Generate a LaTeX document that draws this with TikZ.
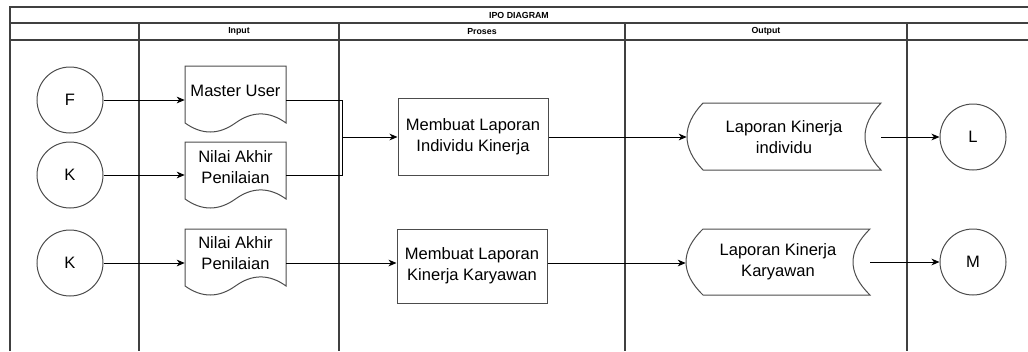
\documentclass[tikz,border=0pt]{standalone}
\usepackage{fontspec}
\setmainfont{Liberation Sans}
\usetikzlibrary{arrows.meta,calc}

% document symbol: flat top, wavy bottom (left, top, right, bottom)
\newcommand\ipodoc[4]{%
  \draw[shp] (#1,#2) -- (#3,#2) -- (#3,{#2+0.85*(#4-#2)})
    .. controls ({#1+0.8333*(#3-#1)},{#2+0.67*(#4-#2)}) and ({#1+0.6667*(#3-#1)},{#2+0.67*(#4-#2)})
    .. ({#1+0.5*(#3-#1)},{#2+0.85*(#4-#2)})
    .. controls ({#1+0.3333*(#3-#1)},{#2+1.03*(#4-#2)}) and ({#1+0.1667*(#3-#1)},{#2+1.03*(#4-#2)})
    .. (#1,{#2+0.85*(#4-#2)}) -- cycle;}

% stored-data symbol: convex left side, concave right side (left, top, right, bottom, curve depth)
\newcommand\iposto[5]{%
  \draw[shp] ({#1+#5},#2) -- (#3,#2)
    .. controls ({#3-1.3333*#5},{#2+(#4-#2)/3}) and ({#3-1.3333*#5},{#4-(#4-#2)/3}) .. (#3,#4)
    -- ({#1+#5},#4)
    .. controls ({#1-#5/3},{#4-(#4-#2)/3}) and ({#1-#5/3},{#2+(#4-#2)/3}) .. ({#1+#5},#2) -- cycle;}

\begin{document}
\begin{tikzpicture}[x=0.75pt,y=-0.75pt,
  frame/.style={draw=black!75,line width=0.8pt},
  shp/.style={draw=black!70,line width=0.75pt},
  link/.style={draw=black,line width=0.75pt},
  conn/.style={link,-{Stealth[length=6pt,width=5pt,inset=1.8pt]}},
  lbl/.style={font=\fontsize{12.4}{15.75}\selectfont,align=center,inner sep=0pt},
  hdr/.style={font=\fontsize{6.6}{8}\selectfont\bfseries,inner sep=0pt},
  term/.style={circle,shp,minimum size=49.5pt,inner sep=0pt,font=\fontsize{12.4}{15}\selectfont},
  procbox/.style={rectangle,shp,lbl},
]
\useasboundingbox (0,0) rectangle (1028,351);

% swimlane frame
\draw[frame] (10,351) -- (10,7) -- (1028,7);
\draw[frame] (10,23) -- (1028,23);
\draw[frame] (10,40) -- (1028,40);
\foreach \cx in {139,339,625,907} \draw[frame] (\cx,23) -- (\cx,351);

\node[hdr] (title) at (519,15) {IPO DIAGRAM};
\node[hdr] (hin)   at (239,31.5) {Input};
\node[hdr] (hpro)  at (482,31.5) {Proses};
\node[hdr] (hout)  at (766,31.5) {Output};

% terminators
\node[term] (F)  at (70,100) {F};
\node[term] (K1) at (70,175) {K};
\node[term] (K2) at (70,263) {K};
\node[term] (L)  at (973,137) {L};
\node[term] (M)  at (973,262) {M};

% input documents
\ipodoc{185}{66}{286}{133}
\ipodoc{185}{142}{286}{209}
\ipodoc{185}{229}{286}{296}
\node[lbl,minimum width=75.75pt] (mu)  at (235.5,91)    {Master User};
\node[lbl,minimum width=75.75pt] (na1) at (235.5,167.5) {Nilai Akhir\\Penilaian};
\node[lbl,minimum width=75.75pt] (na2) at (235.5,253)   {Nilai Akhir\\Penilaian};

% processes
\node[procbox,minimum width=112.5pt,minimum height=57.75pt] (p1) at (473,136.5) {Membuat Laporan\\Individu Kinerja};
\node[procbox,minimum width=112.5pt,minimum height=55.5pt]  (p2) at (472,266)   {Membuat Laporan\\Kinerja Karyawan};

% outputs
\iposto{687}{103}{881}{170}{16}
\iposto{686}{229}{870}{295}{17}
\node[lbl,minimum width=145.5pt] (lk1) at (784,137) {Laporan Kinerja\\individu};
\node[lbl,minimum width=138pt]   (lk2) at (778,262) {Laporan Kinerja\\Karyawan};

% connectors
\coordinate (j) at (342,137);
\draw[conn] (F.east) -- (F.east -| mu.west);
\draw[conn] (K1.east) -- (K1.east -| na1.west);
\draw[link] (F.east -| mu.east) -| (j);
\draw[link] (K1.east -| na1.east) -| (j);
\draw[conn] (j) -- (j -| p1.west);
\draw[conn] (p1.east |- j) -- (j -| lk1.west);
\draw[conn] (lk1.east) -- (L.west);

\draw[conn] (K2.east) -- (K2.east -| na2.west);
\draw[conn] (K2.east -| na2.east) -- (K2.east -| p2.west);
\draw[conn] (K2.east -| p2.east) -- (K2.east -| lk2.west);
\draw[conn] (lk2.east) -- (M.west);
\end{tikzpicture}
\end{document}
